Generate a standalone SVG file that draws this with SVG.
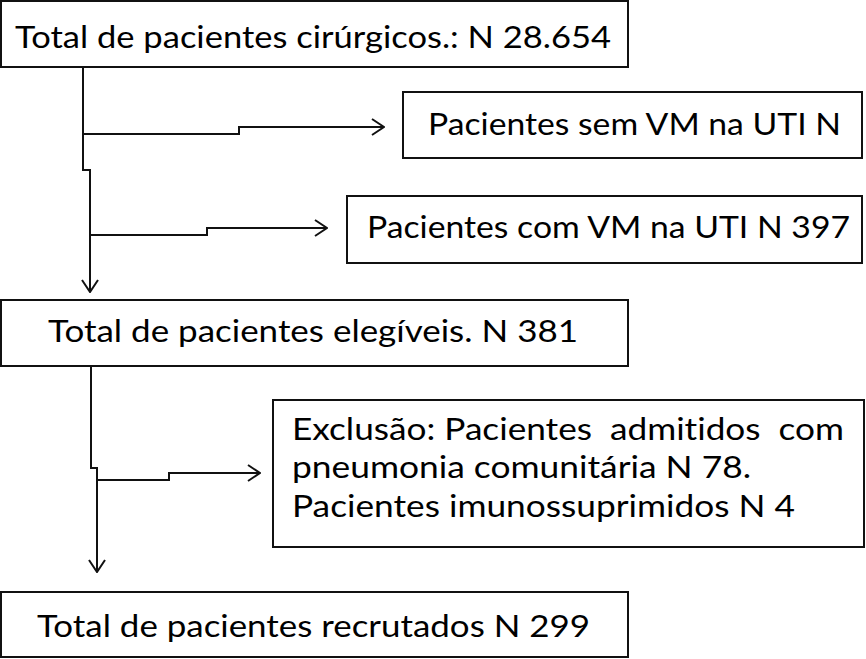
<svg xmlns="http://www.w3.org/2000/svg" width="866" height="659" viewBox="0 0 866 659">
<style>
.box{fill:#fff;stroke:#111;stroke-width:2}
.t{font-family:Lato,"Open Sans","Liberation Sans",sans-serif;font-size:31px;fill:#000;white-space:pre;font-variant-ligatures:none}
.c{fill:none;stroke:#111;stroke-width:2}
</style>
<defs>
<marker id="arr" viewBox="0 0 14 18" refX="13" refY="9" markerWidth="14" markerHeight="18" markerUnits="userSpaceOnUse" orient="auto">
<path d="M1,1 L13,9 L1,17" fill="none" stroke="#111" stroke-width="2"/>
</marker>
</defs>
<g id="connectors">
<path class="c" d="M83,67 V170 H90 V292" marker-end="url(#arr)"/>
<path class="c" d="M83,134 H239 V127 H384" marker-end="url(#arr)"/>
<path class="c" d="M90,235 H207 V228 H327" marker-end="url(#arr)"/>
<path class="c" d="M91,366 V468 H97 V572" marker-end="url(#arr)"/>
<path class="c" d="M97,480 H169 V473 H260" marker-end="url(#arr)"/>
</g>
<g id="n1">
<rect class="box" x="1" y="1" width="627" height="66"/>
<text class="t" x="15" y="48" textLength="596" lengthAdjust="spacingAndGlyphs">Total de pacientes cirúrgicos.: N 28.654</text>
</g>
<g id="n2">
<rect class="box" x="403" y="92" width="459" height="66"/>
<text class="t" x="428" y="135" textLength="413" lengthAdjust="spacingAndGlyphs">Pacientes sem VM na UTI N</text>
</g>
<g id="n3">
<rect class="box" x="347" y="196" width="515" height="67"/>
<text class="t" x="367" y="238" textLength="483" lengthAdjust="spacingAndGlyphs">Pacientes com VM na UTI N 397</text>
</g>
<g id="n4">
<rect class="box" x="1" y="300" width="627" height="66"/>
<text class="t" x="48" y="342" textLength="530" lengthAdjust="spacingAndGlyphs">Total de pacientes elegíveis. N 381</text>
</g>
<g id="n5">
<rect class="box" x="273" y="400" width="591" height="147"/>
<text class="t" x="292" y="440" textLength="552" lengthAdjust="spacingAndGlyphs">Exclusão: Pacientes  admitidos  com</text>
<text class="t" x="292" y="478" textLength="459" lengthAdjust="spacingAndGlyphs">pneumonia comunitária N 78.</text>
<text class="t" x="292" y="517" textLength="503" lengthAdjust="spacingAndGlyphs">Pacientes imunossuprimidos N 4</text>
</g>
<g id="n6">
<rect class="box" x="1" y="592" width="627" height="65"/>
<text class="t" x="37" y="637" textLength="553" lengthAdjust="spacingAndGlyphs">Total de pacientes recrutados N 299</text>
</g>
</svg>
